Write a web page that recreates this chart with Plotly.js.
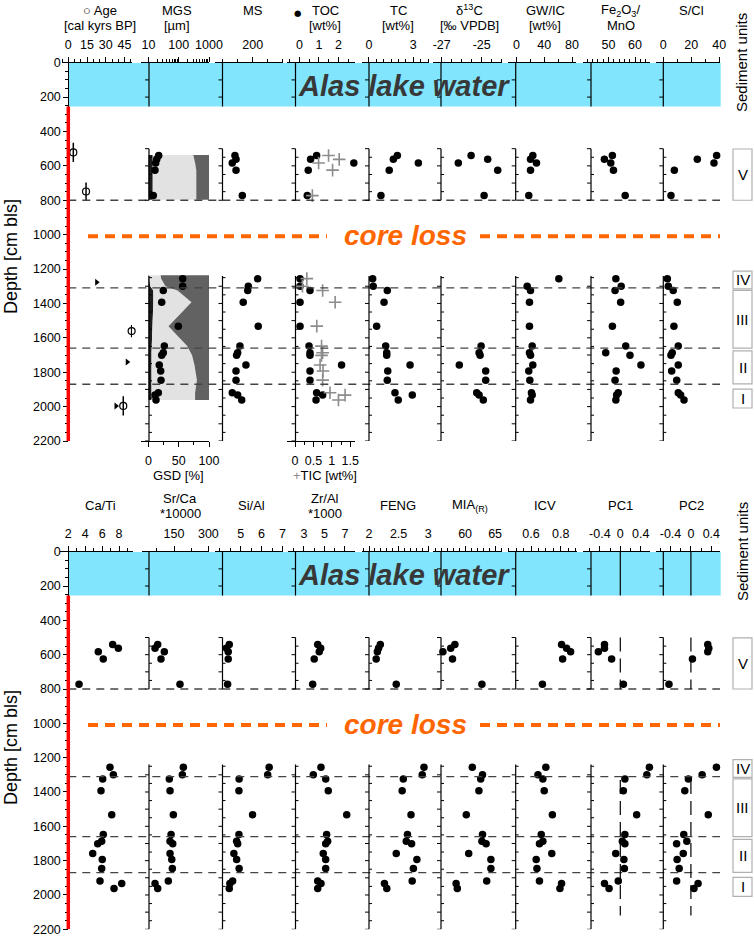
<!DOCTYPE html>
<html>
<head>
<meta charset="utf-8">
<script src="https://cdn.plot.ly/plotly-3.0.1.min.js"></script>
<style>
body { margin: 0; background: #fff; }
#plot { width: 754px; height: 936px; }
</style>
</head>
<body>
<div id="plot"></div>
<script>
// sample depths [cm bls], shared by all proxy columns
const sampleDepth = [540, 562, 583, 625, 773, 1256, 1300, 1325, 1393, 1532, 1648, 1687, 1702, 1758, 1793, 1846, 1919, 1933, 1962];

// upper block
const mgs = [21.7, 18.7, 17.3, 16.4, 14.4, 135, 135, 30.8, 27.3, 96.6, 33.3, 30.8, 27.3, 22.7, 25.3, 25.9, 21.1, 16.4, 17.7];
const ms = [82, 89, 64, 89, 131, 233, 171, 167, 137, 237, 115, 100, 93, 155, 89, 89, 64, 100, 127];
const toc = [0.88, 0.57, 2.79, 0.45, 0.40, 0.03, 0.03, 0.54, 0.03, 0.03, 0.49, 0.54, 0.54, 2.16, 0.54, 0.54, 0.88, 1.19, 0.85];
const tic = [0.91, 1.20, 0.64, 1.02, 0.47, 0.32, 0.20, 0.75, 1.09, 0.59, 0.72, 0.75, 0.72, 0.68, 0.76, 0.75, 0.95, 1.36, 1.18];
const tc = [1.92, 1.65, 3.34, 1.37, 0.81, 0.25, 0.29, 1.24, 1.02, 0.52, 1.13, 1.20, 1.20, 2.78, 1.27, 1.24, 1.76, 2.93, 1.98];
const d13c = [-25.53, -24.70, -26.17, -24.20, -24.88, null, null, null, null, null, -25.03, -25.13, -25.08, -26.12, -24.80, -24.80, -25.25, -25.13, -24.92];
const gwic = [23.5, 20.2, 28.8, 20.2, 17.7, 61, 15.4, 20.2, 18.7, 18.7, 22.6, 18.7, 20.2, 23.5, 17.7, 19.2, 21.6, 22.6, 20.2];
const feMn = [51.5, 48.5, 50.9, 51.9, 56.3, 52.8, 54.8, 52.5, 54.6, 51.5, 56.5, 49.0, 58.1, 62.2, 52.9, 52.5, 53.7, 53.1, 52.8];
const sCl = [38.1, 24.3, 36.2, 7.9, 5.5, 2.9, 3.6, 7.1, 10.0, 7.6, 10.7, 6.4, 5.5, 10.7, 6.0, 9.6, 10.7, 12.4, 14.8];

// ages
const ageDepth = [522, 749, 1561, 1996];
const ageKa = [4, 14.2, 50.7, 44];
const ageErr = [56, 52, 35, 56];
const minAgeDepth = [1277, 1741, 1996];
const minAgeKa = [22.7, 47.2, 38.2];

// grain size distribution [%]
const gsdDepthV = [537, 562, 583, 625, 773, 797];
const clayV = [7, 7, 7, 7, 7, 7];
const siltV = [67, 68, 70, 72, 72, 72];
const gsdDepthL = [1236, 1256, 1300, 1325, 1393, 1532, 1648, 1687, 1702, 1758, 1793, 1846, 1919, 1933, 1962];
const clayL = [1, 1, 3, 8, 8, 6, 5, 5, 5, 5, 5, 5, 5, 5, 5];
const siltL = [19, 20, 25, 40, 63, 27, 59, 65, 67, 71, 73, 75, 72, 72, 72];

// lower block
const caTi = [7.25, 7.92, 5.55, 6.14, 3.27, 6.93, 7.33, 6.07, 5.87, 7.14, 6.14, 5.95, 5.48, 4.89, 6.02, 5.95, 5.75, 8.32, 7.41];
const srCa = [78.7, 67, 107.6, 93, 176, 190.7, 186.3, 129.4, 132.5, 147, 137, 132.5, 144.3, 132.5, 140, 142.6, 125, 67, 78.7];
const siAl = [4.46, 4.33, 4.41, 4.41, 4.38, 6.36, 6.29, 4.93, 4.92, 5.57, 4.92, 4.81, 4.86, 4.68, 4.81, 4.93, 4.62, 4.49, 4.46];
const zrAl = [4.34, 4.63, 4.49, 4.00, 3.85, 4.66, 3.91, 5.12, 5.37, 7.17, 5.21, 5.31, 5.12, 4.88, 5.12, 5.12, 4.34, 4.66, 4.34];
const feng = [2.19, 2.16, 2.14, 2.12, 2.46, 2.93, 2.90, 2.58, 2.56, 2.71, 2.65, 2.63, 2.72, 2.46, 2.81, 2.75, 2.73, 2.26, 2.30];
const mia = [58.3, 57.6, 56.3, 57.9, 62.8, 61.2, 62.9, 62.6, 62.3, 60.2, 62.9, 62.8, 63.5, 60.6, 64.3, 64.3, 63.6, 58.5, 58.7];
const icv = [0.806, 0.84, 0.867, 0.813, 0.677, 0.70, 0.647, 0.68, 0.689, 0.744, 0.669, 0.68, 0.657, 0.74, 0.635, 0.64, 0.657, 0.806, 0.795];
const pc1 = [-0.31, -0.31, -0.43, -0.17, 0.06, 0.57, 0.52, 0.09, 0.06, 0.32, 0.09, 0.04, 0.09, -0.09, 0.07, 0.08, -0.04, -0.31, -0.22];
const pc2 = [0.33, 0.35, 0.33, 0.03, -0.43, 0.50, 0.22, -0.05, -0.12, 0.34, -0.14, -0.08, -0.28, -0.15, -0.27, -0.23, -0.28, 0.14, 0.06];

// sediment units
const unitNames = ['V', 'IV', 'III', 'II', 'I'];
const unitTop = [502, 1212, 1324, 1676, 1898];
const unitBottom = [800, 1315, 1660, 1868, 2008];
const unitBounds = [800, 1310, 1660, 1870];
const lakeBottom = 255;
const coreLossDepth = 1010;

const titlesTop = [['○ Age', '[cal kyrs BP]'], ['MGS', '[µm]'], ['MS'], ['TOC', '[wt%]'], ['TC', '[wt%]'],
  ['δ<sup>13</sup>C', '[‰ VPDB]'], ['GW/IC', '[wt%]'], ['Fe<sub>2</sub>O<sub>3</sub>/', 'MnO'], ['S/Cl']];
const titlesBot = [['Ca/Ti'], ['Sr/Ca', '*10000'], ['Si/Al'], ['Zr/Al', '*1000'], ['FENG'],
  ['MIA<sub>(R)</sub>'], ['ICV'], ['PC1'], ['PC2']];

// ---- geometry (pixels of the 754x936 page) ----
const W = 754, H = 936;
const px = v => v / W;
const py = v => 1 - v / H;
const colAxisPx = [68.3, 149, 222.5, 295.5, 369, 441, 515.7, 591, 663.3];
const titleXTop = [100, 177, 253, 325, 398, 470, 545, 620.7, 691.7];
const titleXBot = [100, 180, 251.7, 325, 398, 470, 545, 620, 691.7];
const axisSegs = [[0, 255], [500, 800], [1240, 2200]];

const axTop = [
  {l: 61.7, r: 132, range: [-5.3, 51], tv: [0, 15, 30, 45], m: 5},
  {l: 141, r: 209, range: [0.752, 3], type: 'log', tv: [10, 100, 1000], tt: ['10', '100', '1000'],
   mv: [20, 30, 40, 50, 60, 70, 80, 90, 200, 300, 400, 500, 600, 700, 800, 900]},
  {l: 215, r: 283, range: [-51, 402], tv: [200], m: 100},
  {l: 287, r: 355, range: [-0.64, 2.85], tv: [0, 1, 2], m: 0.5},
  {l: 362, r: 429.3, range: [-0.47, 4.08], tv: [0, 3], m: 0.5},
  {l: 433.3, r: 501.7, range: [-27.42, -24.0], tv: [-27, -25], tt: ['-27', '-25'], m: 0.5},
  {l: 508.3, r: 575.7, range: [-11.8, 85.3], tv: [0, 40, 80], m: 20},
  {l: 583.3, r: 650, range: [40.6, 65.6], tv: [50, 60], m: 2},
  {l: 655.7, r: 720, range: [-5.4, 40.5], tv: [0, 20, 40], m: 10}
];
const axBot = [
  {l: 60, r: 132.7, range: [1.02, 9.62], tv: [2, 4, 6, 8], m: 1},
  {l: 141.7, r: 209.3, range: [8.8, 304], tv: [150, 300], m: 75},
  {l: 215, r: 283, range: [3.78, 7.02], tv: [5, 6, 7], m: 0.5},
  {l: 288.3, r: 355, range: [1.47, 7.98], tv: [3, 5, 7], m: 1},
  {l: 362, r: 429.3, range: [1.88, 3.02], tv: [2, 2.5, 3], m: 0.1},
  {l: 433.3, r: 501.7, range: [54.7, 66.1], tv: [60, 65], m: 1},
  {l: 508.3, r: 577, range: [0.447, 0.91], tv: [0.6, 0.8], m: 0.05},
  {l: 583.3, r: 650, range: [-0.725, 0.582], tv: [-0.4, 0, 0.4], tt: ['-0.4', '0', '0.4'], m: 0.2},
  {l: 655.7, r: 720, range: [-0.69, 0.57], tv: [-0.4, 0, 0.4], tt: ['-0.4', '0', '0.4'], m: 0.2}
];

function makeAxis(s, anchor, side) {
  const ax = {
    range: s.range, anchor: anchor, side: side,
    showline: true, linecolor: '#000', linewidth: 1,
    ticks: 'outside', ticklen: 5, tickwidth: 1, tickcolor: '#000',
    tickmode: 'array', tickvals: s.tv, ticktext: s.tt,
    showgrid: false, zeroline: false, fixedrange: true, ticklabeloverflow: 'allow',
    tickfont: {size: 12.5, color: '#000'}, ticklabelstandoff: 3
  };
  if (s.l !== undefined) ax.domain = [px(s.l), px(s.r)];
  if (s.type) ax.type = s.type;
  if (s.mv) ax.minor = {tickmode: 'array', tickvals: s.mv, ticks: 'outside', ticklen: 3, tickcolor: '#000'};
  else if (s.m) ax.minor = {tick0: 0, dtick: s.m, ticks: 'outside', ticklen: 3, tickcolor: '#000'};
  return ax;
}

function yAxis(top, bottom) {
  return {
    domain: [py(bottom), py(top)], range: [2200, 0], anchor: 'free', position: px(68.3),
    showline: true, linecolor: '#000', ticks: 'outside', ticklen: 5, tickcolor: '#000',
    tick0: 0, dtick: 200, minor: {dtick: 50, ticks: 'outside', ticklen: 3, tickcolor: '#000'},
    showgrid: false, zeroline: false, fixedrange: true, ticklabeloverflow: 'allow',
    tickfont: {size: 12.5, color: '#000'}
  };
}

function dots(x, xa, ya) {
  return {type: 'scatter', mode: 'markers', x: x, y: sampleDepth, xaxis: xa, yaxis: ya,
    marker: {size: 7.5, color: '#000'}, cliponaxis: false, hoverinfo: 'skip'};
}

// grain size areas sit on the GSD axis (x2), MGS dots on the log axis overlaid above it (x20)
function gsdTraces(depth, clay, silt) {
  const siltTop = clay.map((c, i) => c + silt[i]);
  const full = depth.map(() => 100);
  const base = {type: 'scatter', mode: 'lines', y: depth, xaxis: 'x2', yaxis: 'y', line: {width: 0}, hoverinfo: 'skip'};
  return [
    Object.assign({}, base, {x: clay, fill: 'tozerox', fillcolor: '#1c1c1c'}),
    Object.assign({}, base, {x: siltTop, fill: 'tonextx', fillcolor: '#e2e2e2'}),
    Object.assign({}, base, {x: full, fill: 'tonextx', fillcolor: '#626262'})
  ];
}

const data = [];
data.push(...gsdTraces(gsdDepthV, clayV, siltV));
data.push(...gsdTraces(gsdDepthL, clayL, siltL));
data.push({type: 'scatter', mode: 'markers', x: ageKa, y: ageDepth, xaxis: 'x', yaxis: 'y',
  marker: {symbol: 'circle-open', size: 7, color: '#000', line: {width: 1.2}},
  error_y: {type: 'data', array: ageErr, width: 0, thickness: 1.5, color: '#000'}, cliponaxis: false});
data.push({type: 'scatter', mode: 'markers', x: minAgeKa, y: minAgeDepth, xaxis: 'x', yaxis: 'y',
  marker: {symbol: 'triangle-right', size: 6, color: '#000'}, cliponaxis: false});
data.push(dots(mgs, 'x20', 'y'), dots(ms, 'x3', 'y'), dots(toc, 'x4', 'y'));
data.push({type: 'scatter', mode: 'markers', x: tic, y: sampleDepth, xaxis: 'x21', yaxis: 'y',
  marker: {symbol: 'cross-thin-open', size: 9, color: '#8c8c8c', line: {width: 1.6, color: '#8c8c8c'}}, cliponaxis: false});
data.push(dots(tc, 'x5', 'y'), dots(d13c, 'x6', 'y'), dots(gwic, 'x7', 'y'), dots(feMn, 'x8', 'y'), dots(sCl, 'x9', 'y'));
[caTi, srCa, siAl, zrAl, feng, mia, icv, pc1, pc2].forEach((arr, i) => data.push(dots(arr, 'x' + (10 + i), 'y2')));

const layout = {
  width: W, height: H, margin: {l: 0, r: 0, t: 0, b: 0},
  paper_bgcolor: '#fff', plot_bgcolor: 'rgba(0,0,0,0)', showlegend: false,
  font: {family: 'Liberation Sans, Arial, sans-serif', color: '#000'},
  yaxis: yAxis(62.7, 441),
  yaxis2: yAxis(551.7, 929.3)
};
axTop.forEach((s, i) => {
  if (i === 1) return;
  layout[i === 0 ? 'xaxis' : 'xaxis' + (i + 1)] = makeAxis(s, 'y', 'top');
});
axBot.forEach((s, i) => { layout['xaxis' + (10 + i)] = makeAxis(s, 'y2', 'top'); });
layout.xaxis2 = makeAxis({l: axTop[1].l, r: axTop[1].r, range: [-12.4, 100], tv: [0, 50, 100], m: 25}, 'y', 'bottom');
layout.xaxis20 = Object.assign(makeAxis(Object.assign({}, axTop[1], {l: undefined}), 'y', 'top'), {overlaying: 'x2'});
layout.xaxis19 = Object.assign(makeAxis({range: [-5.3, 51], tv: [0, 15, 30, 45], m: 5}, 'y', 'bottom'), {overlaying: 'x'});
layout.xaxis21 = Object.assign(makeAxis({range: [-0.22, 1.63], tv: [0, 0.5, 1, 1.5], m: 0.25}, 'y', 'bottom'), {overlaying: 'x4'});

// shapes
const shapes = [];
const lineShape = (yr, x0, x1, y0, y1, line) => ({type: 'line', xref: 'paper', yref: yr, x0: x0, x1: x1, y0: y0, y1: y1, line: line});
['y', 'y2'].forEach(yr => {
  shapes.push({type: 'rect', xref: 'paper', yref: yr, x0: px(68.3), x1: px(720.7), y0: 0, y1: lakeBottom,
    fillcolor: '#80e5fd', line: {width: 0}, layer: 'below'});
  unitBounds.forEach(d => shapes.push(lineShape(yr, px(68.3), px(720), d, d, {color: '#444', width: 1.3, dash: '8px,6px'})));
  [[88, 327], [480, 720]].forEach(([a, b]) => shapes.push(lineShape(yr, px(a), px(b), coreLossDepth, coreLossDepth,
    {color: '#ff6600', width: 4, dash: '10px,7px'})));
  colAxisPx.slice(1).forEach(cx => {
    axisSegs.forEach((seg, k) => {
      shapes.push(lineShape(yr, px(cx), px(cx), seg[0], seg[1], {color: '#000', width: 1.2}));
      for (let d = Math.ceil(seg[0] / 50) * 50; d <= seg[1]; d += 50) {
        if (d === 0) continue;
        if (d % 100 === 0) shapes.push(lineShape(yr, px(cx - 4), px(cx), d, d, {color: '#000', width: 1}));
        else if (k > 0) shapes.push(lineShape(yr, px(cx), px(cx + 3), d, d, {color: '#000', width: 1}));
      }
    });
  });
  shapes.push(lineShape(yr, px(68.3), px(68.3), lakeBottom, 2200, {color: '#ff0000', width: 3.5}));
  unitNames.forEach((u, i) => shapes.push({type: 'rect', xref: 'paper', yref: yr, x0: px(733), x1: px(752),
    y0: unitTop[i], y1: unitBottom[i], fillcolor: '#fff', line: {color: '#b0b0b0', width: 1.2}}));
});
// PC zero lines
['x17', 'x18'].forEach(xr => {
  [[0, 255, 'solid'], [500, 800, '14px,7px'], [1330, 2120, '14px,7px']].forEach(([a, b, dash]) =>
    shapes.push({type: 'line', xref: xr, yref: 'y2', x0: 0, x1: 0, y0: a, y1: b, line: {color: '#000', width: 1.2, dash: dash}}));
});
layout.shapes = shapes;

// annotations
const ann = [];
const note = (text, x, y, size, extra) => Object.assign({text: text, x: x, y: y, xref: 'paper', yref: 'paper',
  showarrow: false, xanchor: 'center', yanchor: 'middle', font: {size: size, color: '#000'}}, extra || {});
titlesTop.forEach((lines, i) => lines.forEach((t, j) => {
  const cy = lines.length === 2 ? (j === 0 ? 10.5 : 25.5) : 11;
  ann.push(note(t, px(titleXTop[i]), py(cy), 13));
}));
titlesBot.forEach((lines, i) => {
  const ys = lines.length === 2 ? [498.5, 513.5] : [506];
  lines.forEach((t, j) => ann.push(note(t, px(titleXBot[i]), py(ys[j]), 13)));
});
ann.push(note('●', px(297.5), py(13), 8, {font: {size: 8.5, color: '#000', family: 'DejaVu Sans'}}));
ann.push(note('GSD [%]', px(178), py(475), 13));
ann.push(note('<span style="color:#8c8c8c">+</span>TIC [wt%]', px(325), py(475), 13));
[[257, 'y'], [748, 'y2']].forEach(([cy, yr]) => {
  ann.push(note('Depth [cm bls]', px(11), py(cy), 18, {textangle: -90}));
  ann.push(note('<b><i>Alas lake water</i></b>', px(403.5), 138, 29, {yref: yr, font: {size: 29, color: '#383838'}}));
  ann.push(note('<b><i>core loss</i></b>', px(405.5), coreLossDepth - 3, 28, {yref: yr, font: {size: 28, color: '#ff6600'}}));
  unitNames.forEach((u, i) => ann.push(note(u, px(742.5), (unitTop[i] + unitBottom[i]) / 2, 15, {yref: yr})));
});
ann.push(note('Sediment units', px(742), py(63), 15, {textangle: -90}));
ann.push(note('Sediment units', px(742), py(552), 15, {textangle: -90}));
layout.annotations = ann;

Plotly.newPlot('plot', data, layout, {staticPlot: true, displayModeBar: false});
</script>
</body>
</html>
